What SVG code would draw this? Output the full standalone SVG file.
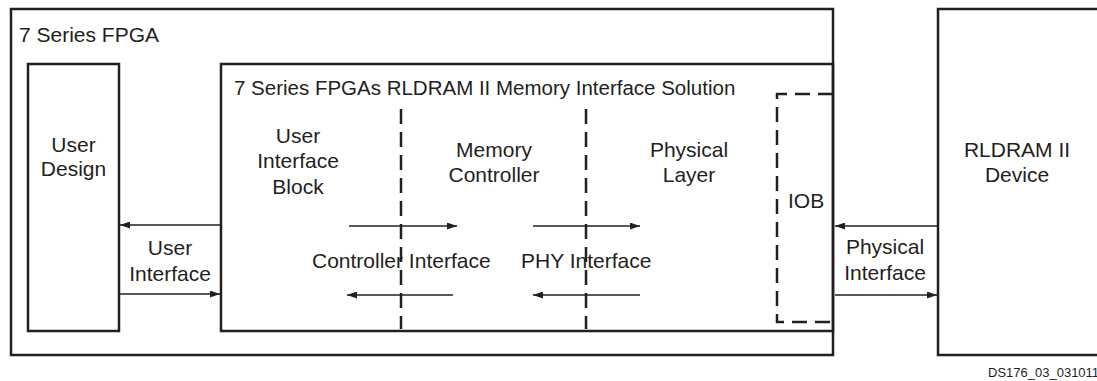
<svg xmlns="http://www.w3.org/2000/svg" width="1097" height="381" viewBox="0 0 1097 381">
<style>
.box{fill:none;stroke:#231f20;stroke-width:2.5}
.dash{fill:none;stroke:#231f20;stroke-width:2.5;stroke-dasharray:15 8}
.ln{stroke:#231f20;stroke-width:1.4;fill:none}
text{font-family:"Liberation Sans",Arial,sans-serif;font-size:21px;fill:#231f20}
.c{text-anchor:middle}
.t{font-size:20.5px}
.small{font-size:13px}
</style>
<defs>
<marker id="ah" viewBox="0 0 10 7" refX="10" refY="3.5" markerWidth="10" markerHeight="7" markerUnits="userSpaceOnUse" orient="auto">
<path d="M0,0 L10,3.5 L0,7 z" fill="#231f20"/>
</marker>
</defs>
<g id="fpga">
<rect class="box" x="11" y="9" width="822" height="346"/>
<text x="19" y="42">7 Series FPGA</text>
</g>
<g id="user-design">
<rect class="box" x="28" y="64" width="91" height="267"/>
<text class="c" x="73.5" y="152">User</text>
<text class="c" x="73.5" y="176">Design</text>
</g>
<g id="solution">
<rect class="box" x="221" y="64" width="612" height="267"/>
<text class="t" x="234" y="95">7 Series FPGAs RLDRAM II Memory Interface Solution</text>
</g>
<g id="ui-block">
<text class="c" x="298" y="143">User</text>
<text class="c" x="298" y="168">Interface</text>
<text class="c" x="298" y="194">Block</text>
</g>
<g id="mem-ctrl">
<text class="c" x="494" y="157">Memory</text>
<text class="c" x="494" y="182">Controller</text>
</g>
<g id="phy-layer">
<text class="c" x="689" y="157">Physical</text>
<text class="c" x="689" y="182">Layer</text>
</g>
<g id="iob">
<path class="dash" d="M833,94 H777 V322 H833"/>
<text x="788" y="208">IOB</text>
</g>
<g id="rldram">
<rect class="box" x="938" y="9" width="170" height="346"/>
<text class="c" x="1017" y="157">RLDRAM II</text>
<text class="c" x="1017" y="182">Device</text>
</g>
<g id="connectors">
<line class="dash" x1="401" y1="109" x2="401" y2="329"/>
<line class="dash" x1="586" y1="109" x2="586" y2="329"/>
<line class="ln" x1="221" y1="225" x2="120" y2="225" marker-end="url(#ah)"/>
<line class="ln" x1="120" y1="294" x2="220" y2="294" marker-end="url(#ah)"/>
<line class="ln" x1="349" y1="226" x2="457" y2="226" marker-end="url(#ah)"/>
<line class="ln" x1="453" y1="295" x2="347" y2="295" marker-end="url(#ah)"/>
<line class="ln" x1="533" y1="226" x2="640" y2="226" marker-end="url(#ah)"/>
<line class="ln" x1="640" y1="295" x2="533" y2="295" marker-end="url(#ah)"/>
<line class="ln" x1="937" y1="226" x2="835" y2="226" marker-end="url(#ah)"/>
<line class="ln" x1="835" y1="295" x2="937" y2="295" marker-end="url(#ah)"/>
</g>
<g id="labels">
<text class="c" x="170" y="255">User</text>
<text class="c" x="170" y="281">Interface</text>
<text x="312" y="268">Controller Interface</text>
<text x="521" y="268">PHY Interface</text>
<text class="c" x="885" y="254">Physical</text>
<text class="c" x="885" y="280">Interface</text>
<text class="small" x="988" y="377">DS176_03_031011</text>
</g>
</svg>
